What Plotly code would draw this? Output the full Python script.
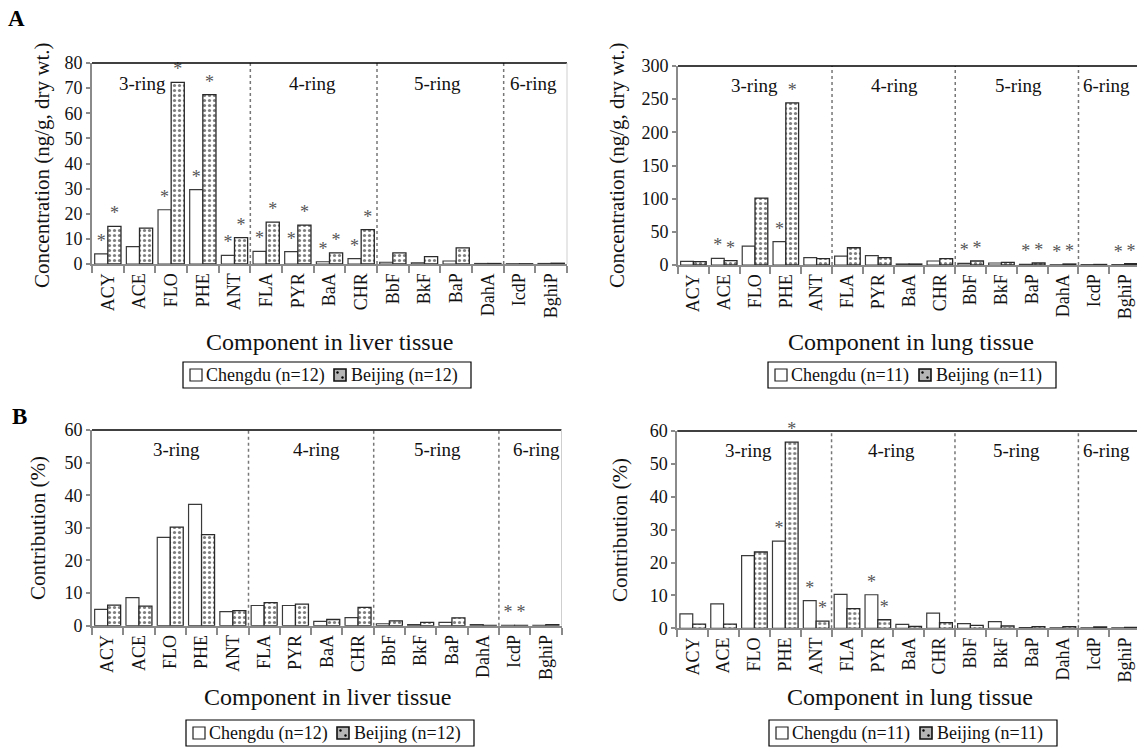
import plotly.graph_objects as go

categories = ["ACY", "ACE", "FLO", "PHE", "ANT", "FLA", "PYR", "BaA", "CHR",
              "BbF", "BkF", "BaP", "DahA", "IcdP", "BghiP"]

# Panel A: concentration (ng/g, dry wt.)
liver_conc_chengdu = [4.0, 6.9, 21.6, 29.6, 3.4, 5.0, 4.9, 0.9, 2.1, 0.7, 0.5, 1.2, 0.2, 0.1, 0.2]
liver_conc_beijing = [15.0, 14.3, 72.3, 67.4, 10.5, 16.7, 15.5, 4.4, 13.7, 4.4, 2.9, 6.4, 0.2, 0.1, 0.3]
lung_conc_chengdu = [5.5, 10.0, 28.6, 35.1, 11.0, 13.5, 14.0, 1.5, 6.0, 2.5, 3.0, 1.0, 0.3, 0.5, 0.5]
lung_conc_beijing = [5.0, 6.5, 100.9, 244.3, 9.5, 26.0, 11.0, 1.5, 9.5, 6.0, 4.0, 3.0, 1.5, 0.8, 2.0]

# Panel B: contribution (%)
liver_pct_chengdu = [5.0, 8.6, 27.1, 37.2, 4.3, 6.2, 6.2, 1.3, 2.5, 0.6, 0.3, 1.0, 0.3, 0.1, 0.1]
liver_pct_beijing = [6.3, 6.0, 30.2, 27.9, 4.6, 7.1, 6.6, 1.9, 5.6, 1.5, 1.0, 2.4, 0.1, 0.1, 0.3]
lung_pct_chengdu = [4.4, 7.4, 22.1, 26.5, 8.4, 10.3, 10.2, 1.2, 4.6, 1.4, 2.0, 0.2, 0.1, 0.1, 0.1]
lung_pct_beijing = [1.3, 1.3, 23.2, 56.6, 2.2, 6.0, 2.6, 0.6, 1.7, 0.9, 0.7, 0.5, 0.5, 0.4, 0.3]

# significance markers (indices of components with "*")
liver_conc_stars = [0, 2, 3, 4, 5, 6, 7, 8]
lung_conc_stars = [1, 3, 9, 11, 12, 14]
liver_pct_stars = [13]
lung_pct_stars = [3, 4, 6]

ring_labels = ["3-ring", "4-ring", "5-ring", "6-ring"]
ring_bounds = [4.5, 8.5, 12.5]

SERIF = "Liberation Serif, Times New Roman, serif"
W, H = 1137, 747

panels = [
    dict(ax="", c=liver_conc_chengdu, b=liver_conc_beijing, stars=liver_conc_stars, n=12,
         dom_x=[92 / W, 567 / W], dom_y=[1 - 264 / H, 1 - 63 / H],
         xrange=[-0.5, 14.5], yrange=[0, 80], dtick=10,
         ytitle="Concentration (ng/g, dry wt.)", xtitle="Component in liver tissue",
         ring_x=[1.1, 6.45, 10.4, 13.45], ytitle_x=42, ytitle_y=165, xtitle_x=329.5, xtitle_y=342,
         leg_left=183, leg_top=362, leg_bot=388),
    dict(ax="2", c=lung_conc_chengdu, b=lung_conc_beijing, stars=lung_conc_stars, n=11,
         dom_x=[678 / W, 1.0], dom_y=[1 - 265 / H, 1 - 66 / H],
         xrange=[-0.5, 14.4], yrange=[0, 300], dtick=50,
         ytitle="Concentration (ng/g, dry wt.)", xtitle="Component in lung tissue",
         ring_x=[1.98, 6.54, 10.56, 13.4], ytitle_x=617, ytitle_y=165, xtitle_x=911, xtitle_y=342,
         leg_left=768, leg_top=362, leg_bot=388),
    dict(ax="3", c=liver_pct_chengdu, b=liver_pct_beijing, stars=liver_pct_stars, n=12,
         dom_x=[92 / W, 561.5 / W], dom_y=[1 - 625.7 / H, 1 - 430 / H],
         xrange=[-0.5, 14.5], yrange=[0, 60], dtick=10,
         ytitle="Contribution (%)", xtitle="Component in liver tissue",
         ring_x=[2.2, 6.68, 10.55, 13.7], ytitle_x=38, ytitle_y=528, xtitle_x=327, xtitle_y=697,
         leg_left=186, leg_top=720, leg_bot=746),
    dict(ax="4", c=lung_pct_chengdu, b=lung_pct_beijing, stars=lung_pct_stars, n=11,
         dom_x=[677.3 / W, 1.0], dom_y=[1 - 628.3 / H, 1 - 431 / H],
         xrange=[-0.5, 14.4], yrange=[0, 60], dtick=10,
         ytitle="Contribution (%)", xtitle="Component in lung tissue",
         ring_x=[1.81, 6.45, 10.5, 13.4], ytitle_x=620, ytitle_y=530, xtitle_x=910, xtitle_y=697,
         leg_left=769, leg_top=720, leg_bot=746),
]

fig = go.Figure()
shapes = []
annotations = []
layout_axes = {}


def px(x):
    return x / W


def py(y):
    return 1 - y / H


for p in panels:
    xa = "x" + p["ax"]
    ya = "y" + p["ax"]
    star_text = ["*" if i in p["stars"] else "" for i in range(len(categories))]
    fig.add_trace(go.Bar(
        x=categories, y=p["c"], name=f"Chengdu (n={p['n']})", xaxis=xa, yaxis=ya,
        marker=dict(color="white", line=dict(color="#3a3a3a", width=1.2)),
        text=star_text, textposition="outside", cliponaxis=False, constraintext="none",
        textfont=dict(family=SERIF, size=18, color="#555555"),
        showlegend=False,
    ))
    fig.add_trace(go.Bar(
        x=categories, y=p["b"], name=f"Beijing (n={p['n']})", xaxis=xa, yaxis=ya,
        marker=dict(color="white", line=dict(color="#2a2a2a", width=1.3),
                    pattern=dict(shape=".", fgcolor="#000000", bgcolor="white", size=5, solidity=0.33)),
        text=star_text, textposition="outside", cliponaxis=False, constraintext="none",
        textfont=dict(family=SERIF, size=18, color="#555555"),
        showlegend=False,
    ))

    xkey = "xaxis" + p["ax"]
    ykey = "yaxis" + p["ax"]
    layout_axes[xkey] = dict(
        domain=p["dom_x"], anchor=ya, range=p["xrange"], type="category",
        showline=True, linecolor="#8a8a8a", linewidth=2,
        ticks="outside", tickson="boundaries", ticklen=7, tickcolor="#8a8a8a", tickwidth=2,
        tickangle=-90, tickfont=dict(family=SERIF, size=18, color="#111111"),
        showgrid=False, zeroline=False, fixedrange=True, automargin=False,
    )
    layout_axes[ykey] = dict(
        domain=p["dom_y"], anchor=xa, range=p["yrange"], dtick=p["dtick"],
        showline=True, linecolor="#8a8a8a", linewidth=2,
        ticks="outside", ticklen=4, tickcolor="#8a8a8a", tickwidth=2,
        tickfont=dict(family=SERIF, size=18, color="#111111"),
        showgrid=False, zeroline=False, fixedrange=True, automargin=False,
    )

    # dotted ring separators
    for xb in ring_bounds:
        shapes.append(dict(type="line", xref=xa, yref=ya + " domain", x0=xb, x1=xb, y0=0, y1=1,
                           line=dict(color="#777777", width=1.5, dash="dot")))
    # top border
    shapes.append(dict(type="line", xref=xa + " domain", yref=ya + " domain", x0=0, x1=1, y0=1, y1=1,
                       line=dict(color="black", width=1.5)))
    if p["dom_x"][1] < 0.99:
        shapes.append(dict(type="line", xref=xa + " domain", yref=ya + " domain", x0=1, x1=1, y0=0, y1=1,
                           line=dict(color="#cfcfcf", width=1)))

    for lbl, rx in zip(ring_labels, p["ring_x"]):
        annotations.append(dict(text=lbl, xref=xa, yref=ya + " domain", x=rx, y=0.9,
                                showarrow=False, xanchor="center", yanchor="middle",
                                font=dict(family=SERIF, size=19, color="#111111")))
    annotations.append(dict(text=p["ytitle"], xref="paper", yref="paper",
                            x=px(p["ytitle_x"]), y=py(p["ytitle_y"]), textangle=-90,
                            showarrow=False, xanchor="center", yanchor="middle",
                            font=dict(family=SERIF, size=21, color="#111111")))
    annotations.append(dict(text=p["xtitle"], xref="paper", yref="paper",
                            x=px(p["xtitle_x"]), y=py(p["xtitle_y"]),
                            showarrow=False, xanchor="center", yanchor="middle",
                            font=dict(family=SERIF, size=24, color="#111111")))

    # boxed legend (as in the original figure)
    L, T, B = p["leg_left"], p["leg_top"], p["leg_bot"]
    mid = (T + B) / 2
    shapes.append(dict(type="rect", xref="paper", yref="paper",
                       x0=px(L), x1=px(L + 288), y0=py(B), y1=py(T),
                       line=dict(color="black", width=1.2), fillcolor="white", layer="below"))
    # Chengdu symbol: open square
    shapes.append(dict(type="rect", xref="paper", yref="paper",
                       x0=px(L + 7), x1=px(L + 19), y0=py(mid + 6), y1=py(mid - 6),
                       line=dict(color="#222222", width=1.2), fillcolor="white"))
    annotations.append(dict(text=f"Chengdu (n={p['n']})", xref="paper", yref="paper",
                            x=px(L + 21), y=py(mid + 0.5), showarrow=False,
                            xanchor="left", yanchor="middle",
                            font=dict(family=SERIF, size=18, color="#111111")))
    # Beijing symbol: dotted square
    shapes.append(dict(type="rect", xref="paper", yref="paper",
                       x0=px(L + 151), x1=px(L + 163), y0=py(mid + 6), y1=py(mid - 6),
                       line=dict(color="#111111", width=1.6), fillcolor="#b5b5b5"))
    for dx, dy in [(154.5, -2.5), (159.5, 2.5)]:
        shapes.append(dict(type="circle", xref="paper", yref="paper",
                           x0=px(L + dx - 1.2), x1=px(L + dx + 1.2),
                           y0=py(mid + dy + 1.2), y1=py(mid + dy - 1.2),
                           line=dict(width=0), fillcolor="#000000"))
    annotations.append(dict(text=f"Beijing (n={p['n']})", xref="paper", yref="paper",
                            x=px(L + 166), y=py(mid + 0.5), showarrow=False,
                            xanchor="left", yanchor="middle",
                            font=dict(family=SERIF, size=18, color="#111111")))

annotations.append(dict(text="<b>A</b>", xref="paper", yref="paper", x=px(16), y=py(19),
                        showarrow=False, xanchor="center", yanchor="middle",
                        font=dict(family=SERIF, size=23, color="black")))
annotations.append(dict(text="<b>B</b>", xref="paper", yref="paper", x=px(19.5), y=py(416.5),
                        showarrow=False, xanchor="center", yanchor="middle",
                        font=dict(family=SERIF, size=23, color="black")))

fig.update_layout(
    width=W, height=H,
    margin=dict(l=0, r=0, t=0, b=0, pad=0, autoexpand=False),
    paper_bgcolor="white", plot_bgcolor="white",
    barmode="group", bargap=0.17, bargroupgap=0.0,
    showlegend=False,
    shapes=shapes, annotations=annotations,
    font=dict(family=SERIF, color="#111111"),
    **layout_axes,
)

fig.write_html(
    "out.html",
    config={"displayModeBar": False},
    post_script="document.body.style.margin='0px';document.body.style.overflow='hidden';",
)
